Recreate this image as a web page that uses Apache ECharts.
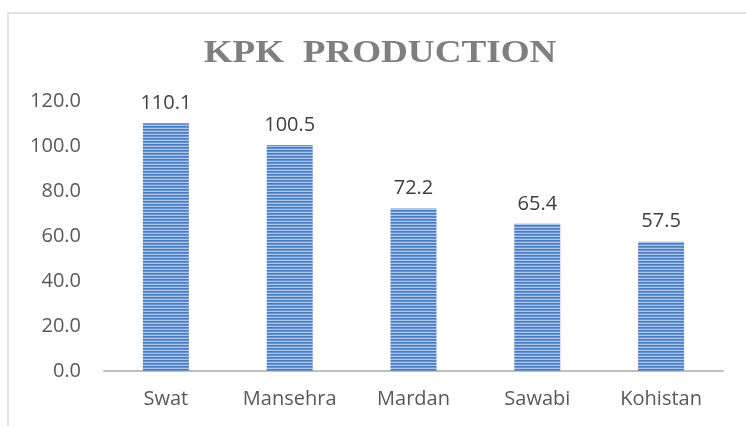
<!DOCTYPE html>
<html>
<head>
<meta charset="utf-8">
<script src="https://cdn.jsdelivr.net/npm/echarts@6/dist/echarts.min.js"></script>
<style>
	html, body { margin: 0; padding: 0; background: #fff; }
	#chart { width: 746px; height: 426px; }
</style>
</head>
<body>
<div id="chart"></div>
<script>
var titleText = 'KPK  PRODUCTION'
var districts = ['Swat', 'Mansehra', 'Mardan', 'Sawabi', 'Kohistan']
var production = [110.1, 100.5, 72.2, 65.4, 57.5]
var yTicks = [0, 20, 40, 60, 80, 100, 120]

// striped fill like the original bars
function stripes() {
	var c = document.createElement('canvas')
	c.width = 4
	c.height = 3
	var ctx = c.getContext('2d')
	ctx.fillStyle = '#4c7cbd'
	ctx.fillRect(0, 0, 4, 1)
	ctx.fillStyle = '#6793d2'
	ctx.fillRect(0, 1, 4, 1)
	ctx.fillStyle = '#abc7ec'
	ctx.fillRect(0, 2, 4, 1)
	return c
}

var myChart = echarts.init(document.getElementById('chart'))
myChart.setOption({
	backgroundColor: '#fff',
	animation: false,
	graphic: [
		{
			type: 'rect',
			shape: { x: 8, y: 13, width: 760, height: 440 },
			style: { fill: 'none', stroke: '#d9d9d9', lineWidth: 1.5 },
			silent: true
		},
		{
			type: 'text',
			x: 380,
			y: 54,
			scaleX: 1.16,
			style: {
				text: titleText,
				font: 'bold 32px "Liberation Serif", serif',
				fill: '#7f7f7f',
				align: 'center',
				verticalAlign: 'middle'
			}
		}
	],
	grid: {
		left: 104,
		right: 23,
		top: 101,
		bottom: 55
	},
	xAxis: {
		type: 'category',
		data: districts,
		axisLine: { lineStyle: { color: '#bfbfbf', width: 2 } },
		axisTick: { show: false },
		axisLabel: {
			margin: 18,
			color: '#595959',
			fontFamily: 'Open Sans',
			fontSize: 20
		}
	},
	yAxis: {
		type: 'value',
		min: yTicks[0],
		max: yTicks[yTicks.length - 1],
		interval: 20,
		splitLine: { show: false },
		axisLine: { show: false },
		axisTick: { show: false },
		axisLabel: {
			margin: 23,
			color: '#595959',
			fontFamily: 'Open Sans',
			fontSize: 20,
			formatter: function (v) { return v.toFixed(1) }
		}
	},
	series: [
		{
			type: 'bar',
			data: production,
			barWidth: 46,
			itemStyle: {
				color: { image: stripes(), repeat: 'repeat' }
			},
			label: {
				show: true,
				position: 'top',
				distance: 10,
				color: '#404040',
				fontFamily: 'Open Sans',
				fontSize: 20,
				formatter: function (p) { return p.value.toFixed(1) }
			}
		}
	]
})
</script>
</body>
</html>
